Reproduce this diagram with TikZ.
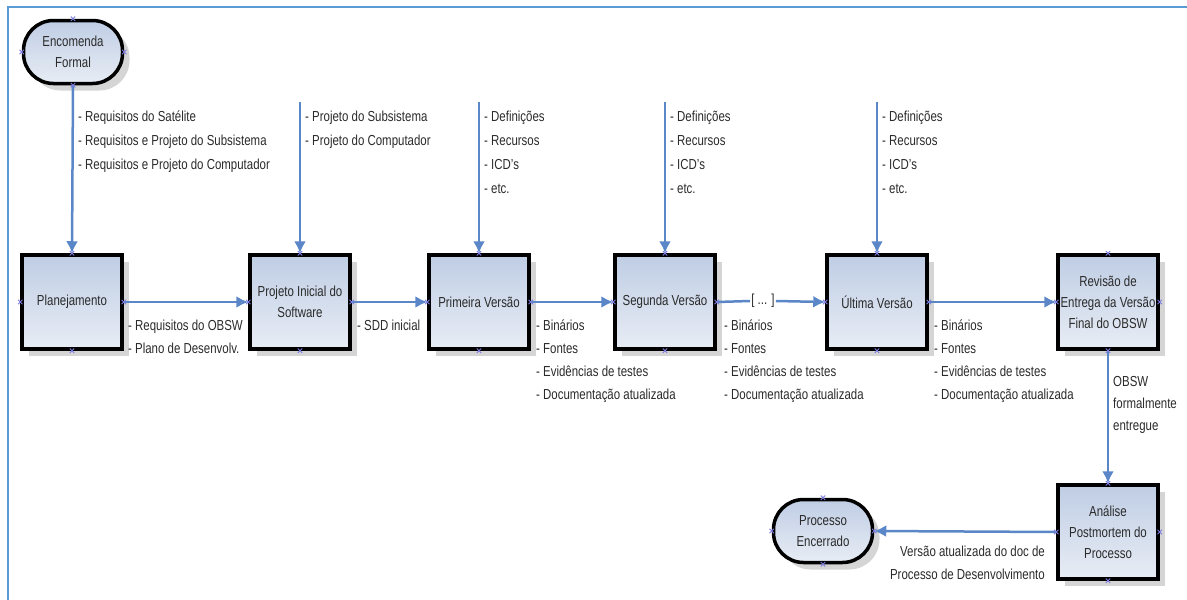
\documentclass[tikz,border=0pt]{standalone}
\usepackage{fontspec}
\setmainfont{Liberation Sans}[FakeStretch=0.79]
\usetikzlibrary{arrows.meta,shadows,calc}
\definecolor{frameblue}{HTML}{5B9BD5}
\definecolor{arrowblue}{HTML}{5B87C8}
\definecolor{boxtop}{HTML}{BFCDE4}
\definecolor{boxbot}{HTML}{E8EDF5}
\definecolor{txt}{HTML}{2A2A2A}
\definecolor{mark}{HTML}{7B7BE0}
\tikzset{
  procbox/.style={draw=black, line width=3.5pt, top color=boxtop, bottom color=boxbot,
    minimum width=100pt, minimum height=94pt, align=center, text=txt,
    font=\fontsize{14.5}{21}\selectfont, inner sep=2pt,
    drop shadow={shadow xshift=7pt, shadow yshift=-7pt, fill=black!30, opacity=0.55}},
  termbox/.style={procbox, rounded corners=30pt, minimum width=99pt, minimum height=63pt},
  flow/.style={draw=arrowblue, line width=2.5pt, -{Latex[length=12pt,width=12pt]}},
  flowplain/.style={draw=arrowblue, line width=2.5pt},
  lbl/.style={align=left, anchor=north west, inner sep=0pt, text=txt,
    font=\fontsize{14.5}{23}\selectfont},
  lbltop/.style={lbl, font=\fontsize{14.5}{24}\selectfont},
  lblr/.style={lbl, align=right, anchor=north east},
  xmark/.style={draw=mark, line width=0.9pt}
}
\newcommand{\xmk}[1]{\draw[xmark] ($(#1)+(-2.2,-2.2)$) -- ($(#1)+(2.2,2.2)$) ($(#1)+(-2.2,2.2)$) -- ($(#1)+(2.2,-2.2)$);}
\begin{document}
\begin{tikzpicture}[x=1pt,y=-1pt]
\useasboundingbox (0,0) rectangle (1187,600);
% frame
\draw[frameblue, line width=2pt] (8,600) -- (8,7) -- (1187,7);

% nodes
\node[termbox] (enc) at (73,52) {Encomenda\\Formal};
\node[procbox] (plan) at (72,302) {Planejamento};
\node[procbox] (proj) at (300,302) {Projeto Inicial do\\Software};
\node[procbox] (prim) at (479,302) {Primeira Versão};
\node[procbox] (seg) at (665,302) {Segunda Versão};
\node[procbox] (ult) at (877,302) {Última Versão};
\node[procbox] (rev) at (1108,302) {Revisão de\\Entrega da Versão\\Final do OBSW};
\node[procbox] (ana) at (1108,532) {Análise\\Postmortem do\\Processo};
\node[termbox] (enc2) at (823,531) {Processo\\Encerrado};
\node[inner sep=1pt, text=txt, font=\fontsize{14.5}{14}\selectfont, fill=white] (dots) at (763,301) {[ ... ]};

% input coordinates
\coordinate (inProj) at (300,102);
\coordinate (inPrim) at (479,102);
\coordinate (inSeg) at (665,102);
\coordinate (inUlt) at (877,102);

% connectors
\draw[flow] (enc.south) -- (plan.north);
\draw[flow] (inProj) -- (proj.north);
\draw[flow] (inPrim) -- (prim.north);
\draw[flow] (inSeg) -- (seg.north);
\draw[flow] (inUlt) -- (ult.north);
\draw[flow] (plan.east) -- (proj.west);
\draw[flow] (proj.east) -- (prim.west);
\draw[flow] (prim.east) -- (seg.west);
\draw[flowplain] (seg.east) -- (dots.west);
\draw[flow] (dots.east) -- (ult.west);
\draw[flow] (ult.east) -- (rev.west);
\draw[flow] (rev.south) -- (ana.north);
\draw[flow] (ana.west) -- (enc2.east);

% markers
\foreach \n in {enc,plan,proj,prim,seg,ult,rev,ana,enc2}{
  \foreach \a in {north,south,east,west}{ \xmk{\n.\a} }
}

% labels
\node[lbltop] (l1) at (78,111) {- Requisitos do Satélite\\- Requisitos e Projeto do Subsistema\\- Requisitos e Projeto do Computador};
\node[lbltop] (l2) at (305,111) {- Projeto do Subsistema\\- Projeto do Computador};
\node[lbltop] (l3) at (484,111) {- Definições\\- Recursos\\- ICD's\\- etc.};
\node[lbltop] (l4) at (670,111) {- Definições\\- Recursos\\- ICD's\\- etc.};
\node[lbltop] (l5) at (882,111) {- Definições\\- Recursos\\- ICD's\\- etc.};
\node[lbl] (l6) at (128,320) {- Requisitos do OBSW\\- Plano de Desenvolv.};
\node[lbl] (l7) at (357,320) {- SDD inicial};
\node[lbl] (l8) at (536,320) {- Binários\\- Fontes\\- Evidências de testes\\- Documentação atualizada};
\node[lbl] (l9) at (724,320) {- Binários\\- Fontes\\- Evidências de testes\\- Documentação atualizada};
\node[lbl] (l10) at (934,320) {- Binários\\- Fontes\\- Evidências de testes\\- Documentação atualizada};
\node[lbl, font=\fontsize{14.5}{22}\selectfont] (l11) at (1113,376) {OBSW\\formalmente\\entregue};
\node[lblr] (l12) at (1045,546) {Versão atualizada do doc de\\Processo de Desenvolvimento};
\end{tikzpicture}
\end{document}
